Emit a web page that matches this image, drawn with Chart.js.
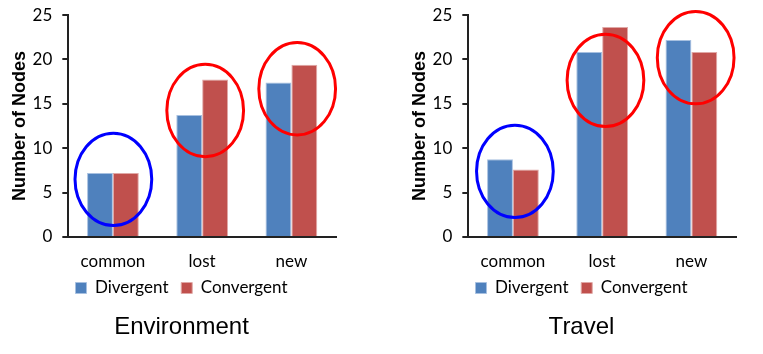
<!DOCTYPE html>
<html lang="en">
  <head>
    <meta charset="UTF-8" />
    <title>Divergent vs Convergent Nodes</title>
    <script src="https://cdn.jsdelivr.net/npm/chart.js"></script>
    <style>
      html, body {
        margin: 0;
        padding: 0;
        background: #ffffff;
      }
      .wrap {
        position: relative;
        width: 763px;
        height: 354px;
      }
      .panel {
        position: absolute;
        top: 0;
        width: 363px;
        height: 354px;
      }
    </style>
  </head>
  <body>
    <div class="wrap">
      <div class="panel" style="left: 0px"><canvas id="envChart"></canvas></div>
      <div class="panel" style="left: 400px"><canvas id="travelChart"></canvas></div>
    </div>

    <script>
      // data
      const categories = ["common", "lost", "new"];
      const seriesNames = ["Divergent", "Convergent"];
      const envDivergent = [7.2, 13.75, 17.4];
      const envConvergent = [7.2, 17.75, 19.4];
      const travelDivergent = [8.75, 20.85, 22.2];
      const travelConvergent = [7.6, 23.65, 20.85];
      const yTicks = [0, 5, 10, 15, 20, 25];

      // hand-drawn rings around each group (category index, centre value)
      const envRingCats = [0.005, 1.034, 2.065];
      const envRingY = [6.5, 14.25, 16.7];
      const travelRingCats = [0.022, 1.037, 2.048];
      const travelRingY = [7.4, 17.65, 20.2];
      const ringColors = ["#0000ff", "#ff0000", "#ff0000"];

      const tickFont = { family: "Lato", size: 17 };

      // draws the ellipses using the chart's own scales
      const ringPlugin = {
        id: "rings",
        afterDatasetsDraw(chart, args, opts) {
          const { ctx, scales } = chart;
          const x = scales.x;
          const y = scales.y;
          const catW = x.width / categories.length;
          ctx.save();
          ctx.lineWidth = 3;
          opts.cats.forEach((c, i) => {
            const cx = x.getPixelForValue(0) + c * catW;
            const cy = y.getPixelForValue(opts.ys[i]);
            const ry = Math.abs(y.getPixelForValue(opts.ys[i] + 5.2) - cy);
            const rx = catW * 0.43;
            ctx.beginPath();
            ctx.strokeStyle = ringColors[i];
            ctx.ellipse(cx, cy, rx, ry, 0, 0, Math.PI * 2);
            ctx.stroke();
          });
          ctx.restore();
        },
      };

      function makeChart(id, title, divergent, convergent, ringCats, ringY) {
        return new Chart(document.getElementById(id), {
          type: "bar",
          data: {
            labels: categories,
            datasets: [
              {
                label: seriesNames[0],
                data: divergent,
                backgroundColor: "#4f81bd",
                borderColor: "#a7c0e0",
                borderWidth: 1,
              },
              {
                label: seriesNames[1],
                data: convergent,
                backgroundColor: "#c0504d",
                borderColor: "#e0a8a6",
                borderWidth: 1,
              },
            ],
          },
          options: {
            responsive: true,
            maintainAspectRatio: false,
            animation: false,
            datasets: {
              bar: { categoryPercentage: 0.58, barPercentage: 1.0 },
            },
            layout: { padding: { left: 9, right: 9, top: 0, bottom: 8.7 } },
            scales: {
              x: {
                grid: { display: false, tickLength: 7.5 },
                border: { display: true, color: "#222", width: 2 },
                ticks: { color: "#000", font: tickFont, padding: 7.3 },
              },
              y: {
                min: 0,
                max: 25,
                afterBuildTicks: (axis) => {
                  axis.ticks = yTicks.map((v) => ({ value: v }));
                },
                grid: {
                  drawOnChartArea: false,
                  tickLength: 6,
                  color: "#222",
                  lineWidth: 2,
                },
                border: { display: true, color: "#222", width: 2 },
                ticks: {
                  color: "#000",
                  font: { family: "Lato", size: 17, lineHeight: 0.6 },
                  padding: 10,
                },
                title: {
                  display: true,
                  text: "Number of Nodes",
                  color: "#000",
                  font: { family: "Liberation Sans", size: 18, weight: "bold" },
                  padding: { top: 0, bottom: -8 },
                },
              },
              // empty right margin so legend and title stay centred on the panel
              spacer: {
                type: "linear",
                position: "right",
                ticks: { display: false },
                grid: { display: false },
                border: { display: false },
                afterFit: (scale) => {
                  scale.width = 18;
                },
              },
            },
            plugins: {
              legend: {
                position: "bottom",
                labels: {
                  color: "#000",
                  font: tickFont,
                  boxWidth: 11,
                  boxHeight: 11,
                  padding: 0,
                  // gap between the two entries
                  generateLabels: (chart) => {
                    const items = Chart.defaults.plugins.legend.labels.generateLabels(chart);
                    items.forEach((it, i) => {
                      if (i < items.length - 1) it.text = it.text + "\u2003";
                    });
                    return items;
                  },
                },
              },
              title: {
                display: true,
                position: "bottom",
                text: title,
                color: "#000",
                font: { family: "Liberation Sans", size: 24, weight: "normal" },
                padding: { top: 6, bottom: 4 },
              },
              tooltip: { enabled: false },
              rings: { cats: ringCats, ys: ringY },
            },
          },
          plugins: [ringPlugin],
        });
      }

      makeChart("envChart", "Environment", envDivergent, envConvergent, envRingCats, envRingY);
      makeChart("travelChart", "Travel", travelDivergent, travelConvergent, travelRingCats, travelRingY);
    </script>
  </body>
</html>
